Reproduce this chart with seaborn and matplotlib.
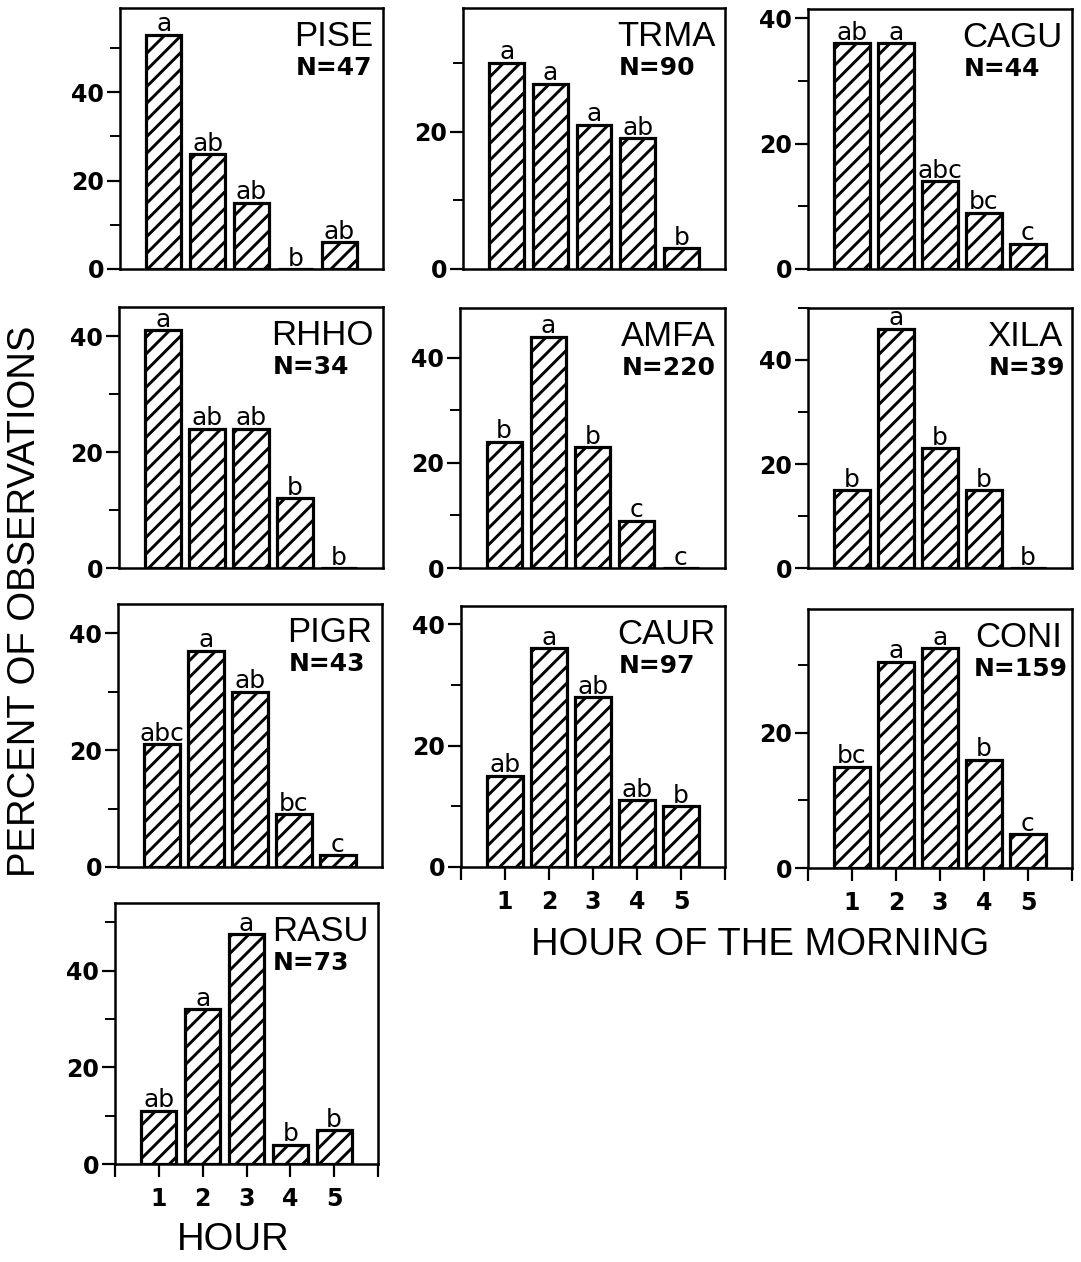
import matplotlib
matplotlib.use("Agg")
import matplotlib.pyplot as plt
import seaborn as sns
import pandas as pd

# ---------------- data ----------------
hours = [1, 2, 3, 4, 5]
species = ["PISE", "TRMA", "CAGU", "RHHO", "AMFA", "XILA", "PIGR", "CAUR", "CONI", "RASU"]
n_obs = [47, 90, 44, 34, 220, 39, 43, 97, 159, 73]

pise = [53, 26, 15, 0, 6]
trma = [30, 27, 21, 19, 3]
cagu = [36, 36, 14, 9, 4]
rhho = [41, 24, 24, 12, 0]
amfa = [24, 44, 23, 9, 0]
xila = [15, 46, 23, 15, 0]
pigr = [21, 37, 30, 9, 2]
caur = [15, 36, 28, 11, 10]
coni = [15, 30.5, 32.5, 16, 5]
rasu = [11, 32, 47.5, 4, 7]
values = [pise, trma, cagu, rhho, amfa, xila, pigr, caur, coni, rasu]

pise_sig = ["a", "ab", "ab", "b", "ab"]
trma_sig = ["a", "a", "a", "ab", "b"]
cagu_sig = ["ab", "a", "abc", "bc", "c"]
rhho_sig = ["a", "ab", "ab", "b", "b"]
amfa_sig = ["b", "a", "b", "c", "c"]
xila_sig = ["b", "a", "b", "b", "b"]
pigr_sig = ["abc", "a", "ab", "bc", "c"]
caur_sig = ["ab", "a", "ab", "ab", "b"]
coni_sig = ["bc", "a", "a", "b", "c"]
rasu_sig = ["ab", "a", "a", "b", "b"]
letters = [pise_sig, trma_sig, cagu_sig, rhho_sig, amfa_sig, xila_sig,
           pigr_sig, caur_sig, coni_sig, rasu_sig]

y_label = "PERCENT OF OBSERVATIONS"
x_label_main = "HOUR OF THE MORNING"
x_label_small = "HOUR"
x_tick_labels = ["", "1", "2", "3", "4", "5", ""]

# ---------------- layout (pixels) ----------------
W, H = 1081, 1262
boxes = [  # x0, y0(top), x1, y1(bottom)
    (120, 8, 383, 269), (463, 8, 725, 269), (808, 9, 1072, 269),
    (119, 307, 383, 568), (460, 308, 725, 568), (808, 308, 1072, 568),
    (118, 604, 382, 867), (461, 606, 725, 867), (808, 609, 1072, 868),
    (115, 903, 378, 1164),
]
ytops = [59, 38, 41.5, 45, 49.5, 50, 45, 43, 38.3, 54]
with_xticks = {"CAUR", "CONI", "RASU"}

sns.set_theme(style="ticks")
plt.rcParams['font.family'] = ['Liberation Sans', 'DejaVu Sans']
plt.rcParams['text.color'] = 'black'
plt.rcParams['axes.labelcolor'] = 'black'
plt.rcParams['xtick.color'] = 'black'
plt.rcParams['ytick.color'] = 'black'
plt.rcParams['axes.edgecolor'] = 'black'
plt.rcParams['hatch.linewidth'] = 2.1
plt.rcParams['hatch.color'] = 'black'

fig = plt.figure(figsize=(W / 100, H / 100), dpi=100)
fig.patch.set_facecolor('white')

n_texts = []
for i, sp in enumerate(species):
    x0, y0, x1, y1 = boxes[i]
    ax = fig.add_axes([x0 / W, 1 - y1 / H, (x1 - x0) / W, (y1 - y0) / H])
    df = pd.DataFrame({"hour": hours, "pct": values[i]})
    sns.barplot(data=df, x="hour", y="pct", native_scale=True, color="white",
                saturation=1, edgecolor="black", linewidth=2.3, width=0.8,
                errorbar=None, ax=ax)
    for p in ax.patches:
        p.set_hatch("//")
        p.set_facecolor("white")
        p.set_edgecolor("black")
        p.set_linewidth(2.3)

    ax.set_xlim(0, 6)
    top = ytops[i]
    ax.set_ylim(0, top)
    ax.set_xlabel("")
    ax.set_ylabel("")
    for s in ax.spines.values():
        s.set_linewidth(1.8)
        s.set_color("black")

    majors = [t for t in (0, 20, 40) if t <= top]
    minors = [t for t in (10, 30, 50) if t <= top]
    ax.set_yticks(majors, labels=[str(t) for t in majors], fontsize=17,
                  fontweight="bold", fontfamily="DejaVu Sans", color="black")
    ax.set_yticks(minors, minor=True)
    ax.tick_params(axis="y", which="major", direction="out", length=9.5, width=1.6,
                   pad=2, colors="black")
    ax.tick_params(axis="y", which="minor", direction="out", length=7, width=1.4,
                   colors="black")

    if sp in with_xticks:
        ax.set_xticks([0, 1, 2, 3, 4, 5, 6], labels=x_tick_labels, fontsize=17,
                      fontweight="bold", fontfamily="DejaVu Sans", color="black")
        ax.tick_params(axis="x", which="major", direction="out", length=9.5,
                       width=1.6, pad=7, colors="black")
    else:
        ax.set_xticks([])
    ax.tick_params(axis="x", which="minor", length=0)

    for h, v, lt in zip(hours, values[i], letters[i]):
        ax.annotate(lt, xy=(h, v), xytext=(0, 2.5), textcoords="offset points",
                    ha="center", va="baseline", fontsize=18, color="black",
                    fontfamily="DejaVu Sans", annotation_clip=False)

    name = ax.annotate(sp, xy=(1, 1), xycoords="axes fraction", xytext=(-7, -27.5),
                       textcoords="offset points", ha="right", va="baseline",
                       fontsize=25, color="black")
    nt = ax.annotate(f"N={n_obs[i]}", xy=(0, 0), xycoords=name, xytext=(1, -15.5),
                     textcoords="offset points", ha="left", va="baseline",
                     color="black", fontsize=18, fontweight="bold",
                     fontfamily="DejaVu Sans")
    n_texts.append((ax, nt))

# keep N labels inside their panel (right-align when wider than the name)
fig.canvas.draw()
renderer = fig.canvas.get_renderer()
for ax, nt in n_texts:
    bb = nt.get_window_extent(renderer)
    abb = ax.get_window_extent(renderer)
    overflow = bb.x1 - (abb.x1 - 4)
    if overflow > 0:
        ox, oy = nt.xyann
        nt.xyann = (ox - overflow * 72 / fig.dpi, oy)

fig.text(25 / W, 1 - 601 / H, y_label, rotation=90, ha="center", va="center",
         fontsize=27.5, color="black")
fig.text(760 / W, 1 - 945 / H, x_label_main, ha="center", va="center",
         fontsize=27.5, color="black")
fig.text(233 / W, 1 - 1240 / H, x_label_small, ha="center", va="center",
         fontsize=27.5, color="black")

fig.savefig("out.png", dpi=100, facecolor="white")
